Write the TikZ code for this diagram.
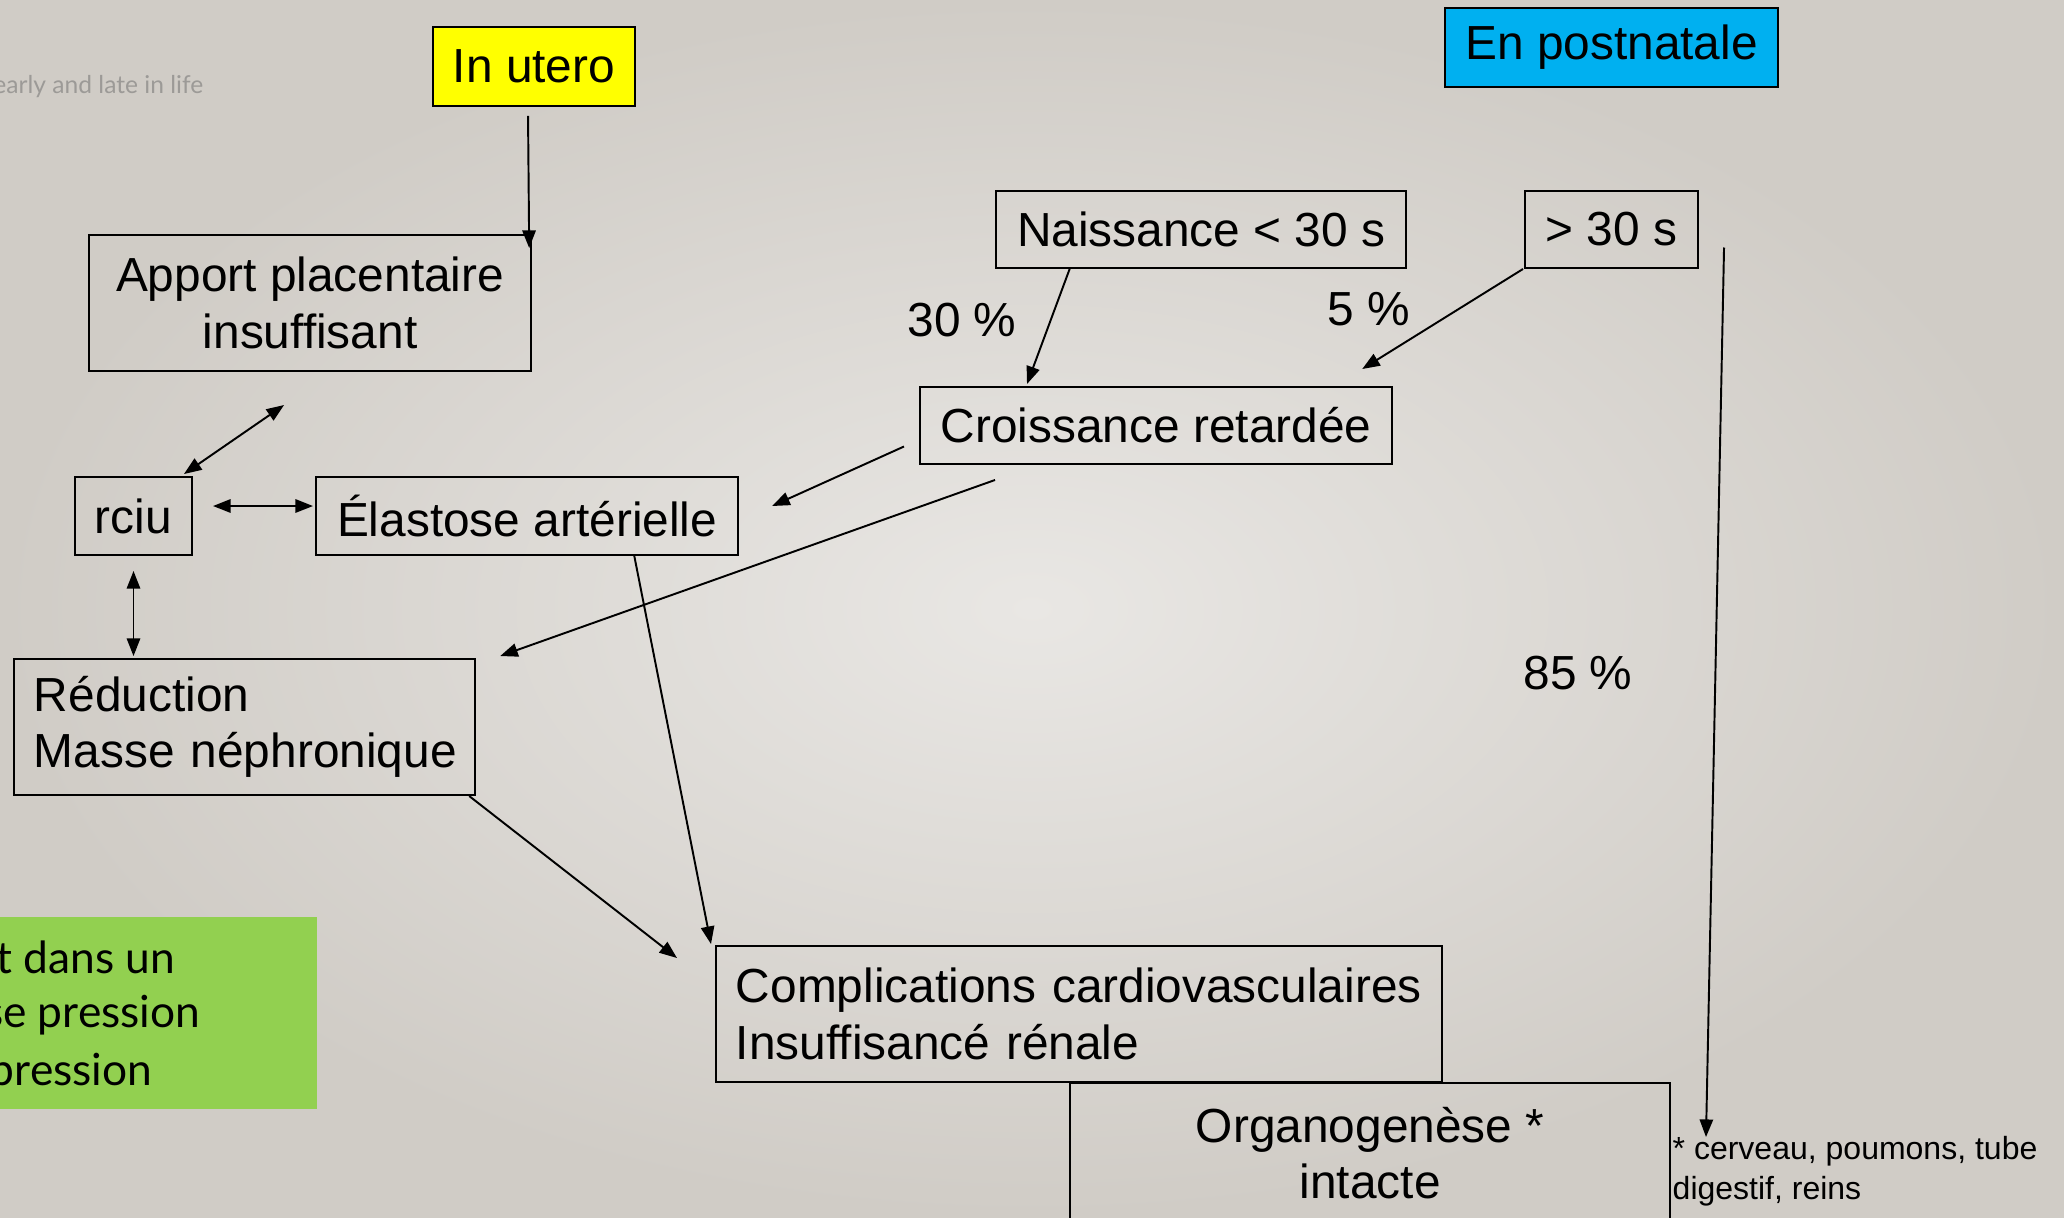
\documentclass[tikz,border=0pt]{standalone}
\usepackage{fontspec}
\setmainfont{Liberation Sans}
\newfontfamily\gillfont{Lato}
\usepackage{tikz}
\usetikzlibrary{arrows.meta,calc}

\definecolor{bgin}{HTML}{E9E7E4}
\definecolor{bgout}{HTML}{D0CCC6}
\definecolor{jaune}{HTML}{FFFF00}
\definecolor{bleu}{HTML}{00B0F0}
\definecolor{vert}{HTML}{92D050}
\definecolor{gris}{HTML}{9C9A97}

\tikzset{
  box/.style={draw=black, line width=0.55pt, anchor=north west, inner sep=0pt,
    align=center, font=\fontsize{13.6}{16.1}\selectfont},
  lbox/.style={box, align=left, inner xsep=2mm},
  pct/.style={font=\fontsize{13.6}{16.1}\selectfont},
  vtext/.style={anchor=east, inner sep=0pt, font=\gillfont\fontsize{12.6}{16}\selectfont},
  fleche/.style={line width=0.55pt, -{Triangle[length=5pt,width=3.8pt]}},
  dfleche/.style={line width=0.55pt, {Triangle[length=5pt,width=3.8pt]}-{Triangle[length=5pt,width=3.8pt]}}
}

\begin{document}
\begin{tikzpicture}[x=0.01cm, y=-0.01cm]

        \useasboundingbox (0,0) rectangle (2064,1217);
        \clip (0,0) rectangle (2064,1217);
        %Fond
        \shade [inner color=bgin, outer color=bgout] (0,0) rectangle (2064,1217);
        \node [anchor=east, inner sep=0pt, text=gris, font=\gillfont\fontsize{7.0}{9}\selectfont] (titre) at (204,87) {early and late in life};

        %Stades
        \node [box, fill=jaune, minimum width=20.2mm, minimum height=7.9mm] (inutero) at (432,26) {In utero};
        \node [box, fill=bleu, minimum width=33.3mm, minimum height=7.9mm] (postnat) at (1444,7) {En postnatale};

        %In utero
        \node [box, minimum width=44.2mm, minimum height=13.6mm] (apport) at (88,234) {Apport placentaire\\insuffisant};
        \node [box, minimum width=11.7mm, minimum height=7.8mm] (rciu) at (74,476) {rciu};
        \node [box, minimum width=42.2mm, minimum height=7.8mm] (elast) at (315,476) {Élastose artérielle};
        \node [lbox, text width=42.1mm, minimum height=13.6mm] (reduc) at (13,658) {Réduction\\\mbox{Masse néphronique}};

        %Postnatale
        \node [box, minimum width=41mm, minimum height=7.7mm] (naiss) at (995,190) {Naissance < 30 s};
        \node [box, minimum width=17.3mm, minimum height=7.7mm] (sup30) at (1524,190) {> 30 s};
        \node [box, minimum width=47.2mm, minimum height=7.7mm] (croiss) at (919,386) {Croissance retardée};
        \node [pct] (p30) at (962,320) {30 \%};
        \node [pct] (p5) at (1369,309) {5 \%};
        \node [pct] (p85) at (1578,673) {85 \%};

        %Issues
        \node [lbox, text width=68.6mm, minimum height=13.6mm] (compl) at (715,945) {Complications cardiovasculaires\\Insuffisancé rénale};
        \node [box, minimum width=60mm, minimum height=14mm] (organo) at (1069,1082) {Organogenèse *\\intacte};
        \node [anchor=north west, inner sep=0pt, align=left, font=\fontsize{9.1}{11.2}\selectfont] (note) at (1672,1136) {* cerveau, poumons, tube\\digestif, reins};

        %Encadre vert
        \node [anchor=north west, fill=vert, inner sep=0pt, minimum width=31.8mm, minimum height=19.2mm] (cadre) at (-2,916) {};
        \node [vtext] (v1) at (176,957) {t dans un};
        \node [vtext] (v2) at (201,1015) {se pression};
        \node [vtext] (v3) at (153,1073) {pression};

        %Fleches
        \draw [fleche] ($(inutero.south)+(-6,9)$) -- ($(apport.north east)+(-3,14)$);
        \draw [dfleche] ($(apport.south)+(-26,33)$) -- ($(rciu.north east)+(-9,-2)$);
        \draw [dfleche] ($(rciu.east)+(20,-10)$) -- ($(elast.west)+(-2,-10)$);
        \draw [dfleche] ($(rciu.south)+(0,15)$) -- ($(rciu.south |- reduc.north)+(0,-2)$);
        \draw [fleche] ($(naiss.south west)+(75,-1)$) -- ($(croiss.north west)+(108,-2)$);
        \draw [fleche] ($(sup30.south west)+(-1,0)$) -- ($(croiss.north east)+(-31,-17)$);
        \draw [fleche] ($(croiss.west)+(-15,21)$) -- ($(elast.east)+(33,-10)$);
        \draw [fleche] ($(croiss.south west)+(76,15)$) -- ($(reduc.north east)+(24,-2)$);
        \draw [fleche] ($(elast.south)+(107,-1)$) -- ($(compl.north west)+(-4,-1)$);
        \draw [fleche] ($(reduc.south east)+(-7,0)$) -- ($(compl.north west)+(-38,13)$);
        \draw [fleche] ($(sup30.east)+(25,18)$) -- ($(note.north west)+(34,1)$);
      \end{tikzpicture}
\end{document}
